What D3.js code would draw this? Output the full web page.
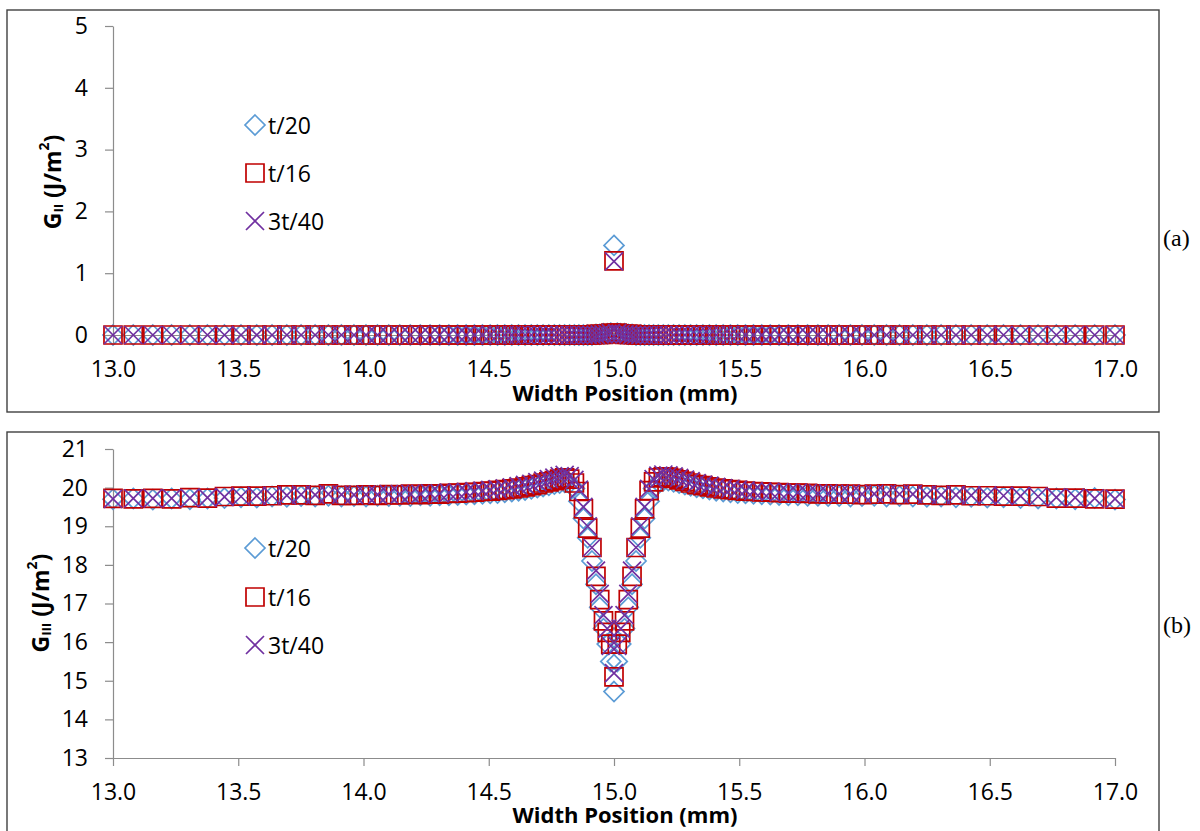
<!DOCTYPE html>
<html><head><meta charset="utf-8">
<script src="https://cdn.jsdelivr.net/npm/d3@7"></script>
<style>body{margin:0;background:#fff}svg{display:block}</style>
</head><body>
<svg id="chart" width="1200" height="831"></svg>
<script>
// ---- data ----
const positions = [
13.000,13.081,13.159,13.234,13.307,13.377,13.445,13.511,13.574,13.635,
13.694,13.751,13.807,13.860,13.912,13.962,14.010,14.056,14.101,14.145,
14.187,14.227,14.266,14.304,14.341,14.376,14.410,14.443,14.475,14.506,
14.535,14.564,14.592,14.619,14.645,14.670,14.694,14.717,14.740,14.762,
14.783,14.803,14.823,14.842,14.860,14.878,14.895,14.912,14.928,14.943,
14.958,14.973,14.987,15.000,
15.013,15.027,15.042,15.057,15.072,15.088,15.105,15.122,15.140,15.158,
15.177,15.197,15.217,15.238,15.260,15.283,15.306,15.330,15.355,15.381,
15.408,15.436,15.465,15.494,15.525,15.557,15.590,15.624,15.659,15.696,
15.734,15.773,15.814,15.855,15.899,15.944,15.990,16.039,16.088,16.140,
16.193,16.249,16.306,16.365,16.426,16.490,16.555,16.623,16.693,16.766,
16.841,16.919,17.000];

const seriesNames = ["t/20", "t/16", "3t/40"];

// panel (a): G_II
const giiT20 = [
0,0,0,0,0,0,0,0,0,0, 0,0,0,0,0,0,0,0,0,0, 0,0,0,0,0,0,0,0,0,0, 0,0,0,0,0,0,0,0,0,0, 0,0,0,0,0,0,
0,0,0.01,0.01,0.02,0.02,0.03, 1.45, 0.03,0.02,0.02,0.01,0.01,0,0,
0,0,0,0,0,0,0,0,0,0, 0,0,0,0,0,0,0,0,0,0, 0,0,0,0,0,0,0,0,0,0, 0,0,0,0,0,0,0,0,0,0, 0,0,0,0,0,0];
const giiT16 = [
0,0,0,0,0,0,0,0,0,0, 0,0,0,0,0,0,0,0,0,0, 0,0,0,0,0,0,0,0,0,0, 0,0,0,0,0,0,0,0,0,0, 0,0,0,0,0,0,
0,0,0.01,0.01,0.01,0.02,0.03, 1.20, 0.03,0.02,0.01,0.01,0.01,0,0,
0,0,0,0,0,0,0,0,0,0, 0,0,0,0,0,0,0,0,0,0, 0,0,0,0,0,0,0,0,0,0, 0,0,0,0,0,0,0,0,0,0, 0,0,0,0,0,0];
const gii3T40 = [
0,0,0,0,0,0,0,0,0,0, 0,0,0,0,0,0,0,0,0,0, 0,0,0,0,0,0,0,0,0,0, 0,0,0,0,0,0,0,0,0,0, 0,0,0,0,0,0,
0,0,0,0.01,0.01,0.02,0.03, 1.19, 0.03,0.02,0.01,0.01,0,0,0,
0,0,0,0,0,0,0,0,0,0, 0,0,0,0,0,0,0,0,0,0, 0,0,0,0,0,0,0,0,0,0, 0,0,0,0,0,0,0,0,0,0, 0,0,0,0,0,0];

// panel (b): G_III
const giiiT20 = [
19.70,19.72,19.69,19.72,19.70,19.72,19.73,19.75,19.74,19.77,
19.76,19.78,19.77,19.79,19.77,19.78,19.77,19.79,19.78,19.79,
19.78,19.80,19.79,19.80,19.80,19.81,19.82,19.83,19.84,19.85,
19.86,19.88,19.90,19.92,19.94,19.97,20.00,20.03,20.06,20.09,
20.12,20.14,20.12,19.98,19.65,19.20,18.70,18.10,17.50,16.90,
16.35,15.95,15.50,14.72,
15.50,15.95,16.35,16.90,17.50,18.10,18.70,19.20,19.65,19.98,
20.14,20.18,20.18,20.15,20.12,20.08,20.05,20.01,19.98,19.95,
19.92,19.90,19.88,19.86,19.85,19.84,19.83,19.82,19.81,19.80,
19.80,19.79,19.79,19.78,19.78,19.77,19.78,19.79,19.77,19.78,
19.77,19.76,19.77,19.75,19.76,19.74,19.75,19.73,19.72,19.72,
19.70,19.73,19.69];
const giiiT16 = [
19.72,19.71,19.72,19.71,19.74,19.73,19.77,19.78,19.78,19.79,
19.81,19.81,19.80,19.84,19.80,19.80,19.81,19.80,19.82,19.81,
19.83,19.82,19.84,19.83,19.85,19.86,19.87,19.88,19.90,19.91,
19.93,19.95,19.97,19.99,20.02,20.05,20.08,20.12,20.15,20.18,
20.22,20.25,20.22,20.12,19.90,19.45,18.95,18.45,17.70,17.10,
16.55,16.25,15.95,15.10,
15.95,16.25,16.55,17.10,17.70,18.45,18.95,19.45,19.92,20.15,
20.25,20.28,20.27,20.24,20.20,20.16,20.12,20.08,20.05,20.02,
19.99,19.97,19.95,19.93,19.91,19.90,19.89,19.88,19.87,19.86,
19.86,19.85,19.84,19.84,19.83,19.83,19.82,19.83,19.84,19.82,
19.83,19.81,19.80,19.81,19.79,19.79,19.78,19.78,19.77,19.73,
19.73,19.71,19.70];
const giii3T40 = [
19.71,19.72,19.72,19.72,19.73,19.74,19.76,19.77,19.79,19.79,
19.80,19.82,19.81,19.83,19.82,19.81,19.82,19.82,19.83,19.83,
19.84,19.84,19.85,19.85,19.87,19.88,19.89,19.91,19.92,19.94,
19.96,19.98,20.01,20.04,20.07,20.10,20.14,20.18,20.22,20.26,
20.30,20.33,20.30,20.20,19.95,19.50,19.00,18.45,17.85,17.25,
16.70,16.35,15.90,15.20,
15.90,16.35,16.70,17.25,17.85,18.45,19.00,19.50,19.97,20.22,
20.31,20.34,20.32,20.29,20.25,20.21,20.17,20.12,20.08,20.05,
20.02,19.99,19.97,19.95,19.93,19.91,19.90,19.89,19.88,19.87,
19.87,19.86,19.85,19.85,19.84,19.84,19.83,19.84,19.84,19.83,
19.83,19.82,19.81,19.81,19.80,19.80,19.79,19.78,19.77,19.75,
19.74,19.72,19.71];

const xTicks = [13.0, 13.5, 14.0, 14.5, 15.0, 15.5, 16.0, 16.5, 17.0];
const giiTicks = [0, 1, 2, 3, 4, 5];
const giiiTicks = [13, 14, 15, 16, 17, 18, 19, 20, 21];
const xTitle = "Width Position (mm)";
const panelLabels = ["(a)", "(b)"];

// ---- drawing ----
const svg = d3.select("#chart");
svg.append("rect").attr("width", 1200).attr("height", 831).attr("fill", "#fff");

const colors = ["#5b9bd5", "#c00000", "#7030a0"];
const FONT = "'Open Sans', 'Noto Sans', sans-serif";
const AXIS = "#8c8c8c";

function markerPath(type, cx, cy) {
  if (type === 0) { const r = 10; return `M${cx},${cy-r}L${cx+r},${cy}L${cx},${cy+r}L${cx-r},${cy}Z`; }
  if (type === 1) { const r = 9; return `M${cx-r},${cy-r}H${cx+r}V${cy+r}H${cx-r}Z`; }
  const r = 9; return `M${cx-r},${cy-r}L${cx+r},${cy+r}M${cx+r},${cy-r}L${cx-r},${cy+r}`;
}

const x = d3.scaleLinear().domain([13, 17]).range([113, 1115]);

const panels = [
  { frame: [7, 10, 1152, 402], yDomain: [0, 5], yRange: [335, 26], ticks: giiTicks,
    series: [giiT20, giiT16, gii3T40], legendY: [125, 173, 221], titleX: 52, titleY: 182,
    sub: "II", label: panelLabels[0], labelY: 246, xTitleY: 401 },
  { frame: [7, 432, 1152, 420], yDomain: [13, 21], yRange: [758, 449], ticks: giiiTicks,
    series: [giiiT20, giiiT16, giii3T40], legendY: [548, 597, 645], titleX: 40, titleY: 603,
    sub: "III", label: panelLabels[1], labelY: 633, xTitleY: 823 }
];

panels.forEach(p => {
  const g = svg.append("g");
  g.append("rect").attr("x", p.frame[0]).attr("y", p.frame[1])
    .attr("width", p.frame[2]).attr("height", p.frame[3])
    .attr("fill", "none").attr("stroke", "#404040").attr("stroke-width", 1.4);

  const y = d3.scaleLinear().domain(p.yDomain).range(p.yRange);

  const yAxis = g.append("g").attr("transform", `translate(${x(13)},0)`)
    .call(d3.axisLeft(y).tickValues(p.ticks).tickSize(8).tickSizeOuter(0).tickPadding(17).tickFormat(d3.format("d")));
  const xAxis = g.append("g").attr("transform", `translate(0,${p.yRange[0]})`)
    .call(d3.axisBottom(x).tickValues(xTicks).tickSize(8).tickSizeOuter(0).tickPadding(18).tickFormat(d3.format(".1f")));
  [yAxis, xAxis].forEach(a => {
    a.select(".domain").attr("stroke", AXIS).attr("stroke-width", 1.2);
    a.selectAll(".tick line").attr("stroke", AXIS).attr("stroke-width", 1.2);
    a.selectAll(".tick text").attr("fill", "#000").style("font-family", FONT).style("font-size", "23px");
  });

  // axis titles
  g.append("text").attr("x", 625).attr("y", p.xTitleY).attr("text-anchor", "middle")
    .style("font-family", FONT).style("font-size", "22px").style("font-weight", "bold")
    .text(xTitle);
  const yt = g.append("text")
    .attr("transform", `translate(${p.titleX},${p.titleY}) rotate(-90)`)
    .attr("text-anchor", "middle").attr("dominant-baseline", "central")
    .style("font-family", FONT).style("font-size", "23px").style("font-weight", "bold");
  yt.append("tspan").text("G");
  yt.append("tspan").attr("font-size", "13px").attr("dy", 6).text(p.sub);
  yt.append("tspan").attr("dy", -6).text(" (J/m");
  yt.append("tspan").attr("font-size", "14px").attr("dy", -9).text("2");
  yt.append("tspan").attr("dy", 9).text(")");

  // data markers
  p.series.forEach((vals, si) => {
    g.append("g").selectAll("path").data(vals).join("path")
      .attr("d", (v, i) => markerPath(si, x(positions[i]), y(v)))
      .attr("fill", "none").attr("stroke", colors[si]).attr("stroke-width", 1.7);
  });

  // legend
  seriesNames.forEach((name, si) => {
    const ly = p.legendY[si];
    g.append("path").attr("d", markerPath(si, 255, ly))
      .attr("fill", "none").attr("stroke", colors[si]).attr("stroke-width", 1.7);
    g.append("text").attr("x", 268).attr("y", ly).attr("dominant-baseline", "central")
      .style("font-family", FONT).style("font-size", "23px").text(name);
  });

  // panel label
  svg.append("text").attr("x", 1163).attr("y", p.labelY)
    .style("font-family", "'Liberation Serif', 'DejaVu Serif', serif").style("font-size", "24px")
    .text(p.label);
});
</script>
</body></html>
